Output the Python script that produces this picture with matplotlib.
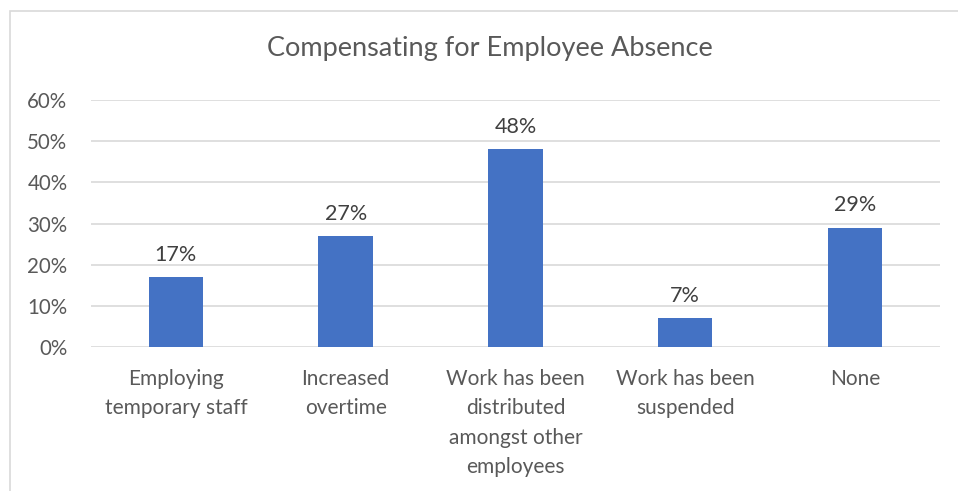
import matplotlib.pyplot as plt
from matplotlib.patches import Rectangle

categories = ["Employing\ntemporary staff", "Increased\novertime",
              "Work has been\ndistributed\namongst other\nemployees",
              "Work has been\nsuspended", "None"]
values = [17, 27, 48, 7, 29]
yticks = [0, 10, 20, 30, 40, 50, 60]

plt.rcParams['font.family'] = ['Lato', 'DejaVu Sans']
grey = '#595959'

fig = plt.figure(figsize=(9.58, 4.91), dpi=100)
ax = fig.add_axes([0.095, 0.2933, 0.886, 0.503])

x = range(len(categories))
bars = ax.bar(x, values, width=0.32, color='#4472C4', zorder=3)
for b, v in zip(bars, values):
    ax.text(b.get_x() + b.get_width() / 2, v + 3.0, f"{v}%", ha='center', va='bottom',
            fontsize=15.5, color='#404040')

ax.set_xlim(-0.5, len(categories) - 0.5)
ax.set_ylim(0, 60)
ax.set_yticks(yticks)
ax.set_yticklabels([f"{t}%" for t in yticks], fontsize=14.8, color=grey)
ax.set_xticks(list(x))
ax.set_xticklabels(categories, fontsize=15, color=grey, linespacing=1.58)
ax.tick_params(axis='y', length=0, pad=17)
ax.tick_params(axis='x', length=0, pad=16)
ax.grid(axis='y', color='#D9D9D9', linewidth=1.2, zorder=0)
for s in ax.spines.values():
    s.set_visible(False)

fig.text(0.5115, 0.902, "Compensating for Employee Absence", ha='center', va='center',
         fontsize=19.5, color=grey)

# chart border
fig.patches.append(Rectangle((10 / 958, -0.1), 1.2, 1 - 11 / 491 + 0.1, transform=fig.transFigure,
                             fill=False, edgecolor='#D9D9D9', linewidth=1.2))

fig.savefig("out.png", dpi=100)
